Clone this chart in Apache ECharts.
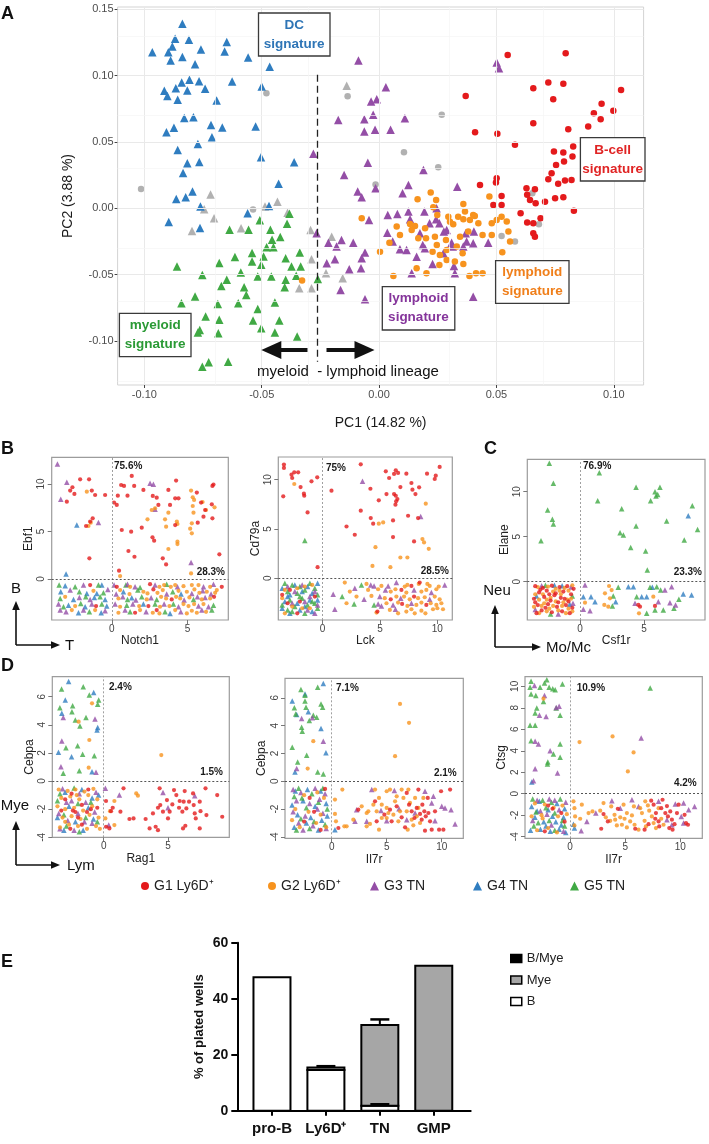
<!DOCTYPE html>
<html><head><meta charset="utf-8">
<script src="https://cdn.jsdelivr.net/npm/echarts@6/dist/echarts.min.js"></script>
<style>html,body{margin:0;padding:0;background:#fff}#c{width:709px;height:1144px}</style>
</head><body><div id="c"></div><script>
// ---------------- DATA ----------------
const GROUPS = ['G1 Ly6D\u207A','G2 Ly6D\u207A','G3 TN','G4 TN','G5 TN'];
const COLORS = ['#e41a1c','#f7931e','#944ea6','#2f7dc0','#40a944'];
const SYMBOLS = ['circle','circle','triangle','triangle','triangle'];

// Panel A (PC1, PC2)
const A_XTICKS = [-0.10,-0.05,0,0.05,0.10];
const A_YTICKS = [-0.10,-0.05,0,0.05,0.10,0.15];
const A_XMINOR = [-0.075,-0.025,0.025,0.075];
const A_YMINOR = [-0.125,-0.075,-0.025,0.025,0.075,0.125];
const A_G1 = [[0.0369,0.0847],[0.0657,0.0905],[0.0721,0.0948],[0.0785,0.0938],[0.0742,0.0822],[0.0657,0.0641],[0.0409,0.0573],[0.0504,0.0561],[0.0579,0.0478],[0.0806,0.0596],[0.0891,0.0616],[0.0915,0.0716],[0.0948,0.0787],[0.0944,0.0671],[0.0745,0.0427],[0.0785,0.042],[0.0827,0.0465],[0.0824,0.039],[0.0754,0.0327],[0.0788,0.0352],[0.0735,0.0264],[0.0721,0.0219],[0.0763,0.0184],[0.0792,0.0209],[0.082,0.0214],[0.0501,0.0226],[0.0498,0.0194],[0.043,0.0176],[0.0522,0.0093],[0.0522,0.0025],[0.0487,0.0025],[0.0628,0.0151],[0.0664,0.0143],[0.0631,0.0101],[0.0643,0.0063],[0.0667,0.0038],[0.0707,0.005],[0.075,0.0075],[0.0785,0.0083],[0.083,-0.0018],[0.0603,-0.0038],[0.0631,-0.0108],[0.0657,-0.0113],[0.0688,-0.0075],[0.0657,-0.0189],[0.0664,-0.0214],[0.0548,0.1155],[0.0795,0.1168],[0.1031,0.0891],[0.0998,0.0735]];
const A_G2 = [[-0.0074,-0.0075],[0.0004,-0.0327],[0.0044,-0.0259],[0.0061,-0.051],[0.0164,0.0068],[0.022,0.0118],[0.0243,0.0063],[0.0231,0.0008],[0.0248,-0.005],[0.0132,-0.0118],[0.0153,-0.0133],[0.0238,-0.0214],[0.0246,-0.0277],[0.0228,-0.0327],[0.0259,-0.0352],[0.0288,-0.039],[0.0323,-0.0402],[0.0359,-0.042],[0.0385,-0.051],[0.0413,-0.049],[0.0441,-0.049],[0.0295,-0.0063],[0.0316,-0.0121],[0.0337,-0.0063],[0.0359,0.0033],[0.0359,-0.0083],[0.0387,-0.0088],[0.0408,-0.0058],[0.0423,-0.0113],[0.038,-0.0176],[0.0345,-0.0214],[0.0331,-0.0289],[0.0356,-0.0339],[0.0285,-0.0239],[0.0441,-0.0201],[0.048,-0.0201],[0.048,-0.0113],[0.0501,-0.0088],[0.0522,-0.0063],[0.0544,-0.01],[0.0551,-0.0176],[0.0558,-0.0251],[0.0525,-0.0332],[0.047,0.0088],[0.0366,-0.0025],[0.0401,-0.005],[0.0089,-0.0201],[0.0075,-0.0138],[0.0139,-0.0163],[0.0167,-0.0226],[0.0196,-0.0151],[0.02,-0.0226],[0.0288,-0.0314],[0.0257,-0.0427],[0.016,-0.0452],[0.0202,-0.049],[0.0302,-0.0101],[-0.0328,-0.0544]];
const A_G3 = [[-0.0088,0.1114],[0.0501,0.1099],[0.0511,0.1056],[0.0029,0.0913],[-0.0034,0.0804],[-0.001,0.0822],[-0.0174,0.0666],[-0.0063,0.0671],[-0.0025,0.0704],[-0.0063,0.0578],[-0.0017,0.0591],[0.0049,0.0591],[0.011,0.0679],[-0.028,0.041],[-0.0048,0.0344],[-0.0149,0.0251],[0.0189,0.0289],[-0.0091,0.0126],[-0.0074,0.0083],[-0.0015,0.0151],[0.01,0.0113],[0.0125,0.0176],[0.0333,0.0163],[-0.0043,-0.0088],[0.0037,-0.005],[0.0078,-0.0043],[0.0125,-0.0025],[0.0193,-0.0025],[0.0245,0],[0.0243,-0.0083],[0.0215,-0.0113],[0.0132,-0.0083],[0.0174,-0.0189],[0.0257,-0.0113],[0.0276,-0.0176],[0.0369,-0.0189],[0.0404,-0.0176],[0.0373,-0.0251],[0.0401,-0.0264],[0.0359,-0.0289],[0.0465,-0.0259],[0.0309,-0.0259],[0.0274,-0.0339],[0.0186,-0.0277],[0.0035,-0.0184],[0.0058,-0.0251],[0.0089,-0.0309],[0.0117,-0.0314],[0.016,-0.0365],[0.0195,-0.0302],[-0.006,-0.0334],[-0.0074,-0.0377],[-0.0077,-0.0452],[-0.0127,-0.046],[-0.011,-0.0259],[-0.016,-0.0239],[-0.0181,-0.0289],[-0.0216,-0.0259],[-0.0266,-0.0189],[-0.0188,-0.0385],[-0.0223,-0.0415],[-0.0164,-0.0616],[-0.006,-0.0686],[0.0139,-0.049],[0.0228,-0.042],[0.0319,-0.0435],[0.0323,-0.049],[0.0401,-0.0666],[0.0314,-0.0289],[0.0288,-0.0163]];
const A_G4 = [[-0.0966,0.1176],[-0.0838,0.139],[-0.0869,0.1277],[-0.081,0.127],[-0.0898,0.1176],[-0.0881,0.122],[-0.0838,0.114],[-0.0888,0.1114],[-0.0784,0.1086],[-0.0759,0.1197],[-0.0649,0.1254],[-0.0658,0.1181],[-0.0558,0.1136],[-0.0466,0.1066],[-0.0915,0.0885],[-0.0902,0.0847],[-0.0866,0.0905],[-0.0858,0.0817],[-0.0841,0.0948],[-0.0817,0.0887],[-0.0808,0.0968],[-0.0767,0.0958],[-0.0741,0.09],[-0.0692,0.0812],[-0.0626,0.0955],[-0.05,0.0918],[-0.0906,0.0573],[-0.0874,0.0606],[-0.083,0.0681],[-0.0791,0.0686],[-0.0716,0.0628],[-0.0668,0.0608],[-0.0712,0.0535],[-0.0526,0.0616],[-0.0858,0.044],[-0.0772,0.0485],[-0.0817,0.0339],[-0.0766,0.0349],[-0.0835,0.0266],[-0.0503,0.0385],[-0.0362,0.0347],[-0.0428,0.0184],[-0.0864,0.007],[-0.0824,0.0083],[-0.0795,0.0126],[-0.0761,0.0013],[-0.0896,-0.0103],[-0.0763,-0.0148],[-0.056,-0.0038],[-0.0469,0.0018]];
const A_G5 = [[-0.0382,-0.0041],[-0.0508,-0.0091],[-0.0556,-0.0162],[-0.0637,-0.0162],[-0.0463,-0.0162],[-0.0421,-0.0217],[-0.0456,-0.0237],[-0.0479,-0.0293],[-0.045,-0.0293],[-0.0541,-0.0338],[-0.0614,-0.0368],[-0.0492,-0.0363],[-0.0398,-0.0376],[-0.0338,-0.0333],[-0.0541,-0.0401],[-0.0502,-0.0426],[-0.0681,-0.0413],[-0.0861,-0.0439],[-0.0753,-0.0502],[-0.0649,-0.0539],[-0.0589,-0.0484],[-0.0517,-0.0514],[-0.0459,-0.0514],[-0.0373,-0.0439],[-0.0334,-0.0439],[-0.0398,-0.0539],[-0.0353,-0.0509],[-0.0672,-0.0585],[-0.0575,-0.0595],[-0.0566,-0.0653],[-0.0402,-0.0595],[-0.0261,-0.0534],[-0.0842,-0.0716],[-0.0784,-0.0665],[-0.0687,-0.0721],[-0.06,-0.0716],[-0.0444,-0.0711],[-0.0739,-0.0816],[-0.0681,-0.0841],[-0.0517,-0.076],[-0.0425,-0.0846],[-0.0537,-0.0846],[-0.0764,-0.0917],[-0.0772,-0.0937],[-0.0685,-0.0942],[-0.0502,-0.0904],[-0.0444,-0.0937],[-0.0349,-0.0967],[-0.0753,-0.1194],[-0.0726,-0.1161],[-0.0643,-0.1156],[-0.0392,-0.0116]];
const A_GRAY_CIRCLE = [[-0.1014,0.0146],[-0.048,0.0867],[-0.0537,-0.001],[-0.0134,0.0845],[-0.0015,0.018],[0.0267,0.0704],[0.0106,0.0422],[0.0252,0.0309],[0.0653,0.0113],[0.0522,-0.0209],[0.0579,-0.0251],[0.0681,-0.0121]];
const A_GRAY_TRI = [[-0.0718,0.0103],[-0.0745,-0.0008],[-0.0703,-0.0075],[-0.0797,-0.0171],[-0.0588,-0.0151],[-0.0486,0.0013],[-0.0433,0.005],[-0.039,-0.0033],[-0.0292,-0.0163],[-0.0138,0.0923],[-0.0202,-0.0214],[-0.0288,-0.0385],[-0.0226,-0.049],[-0.0288,-0.0602],[-0.034,-0.0602],[-0.0155,-0.0528]];
const A_DIVIDER_X = -0.0263;

// Panel B1 (Notch1 vs Ebf1)
const B1_XTICKS = [0,5], B1_YTICKS = [0,5,10];
const B1_G1 = [[-2.09,10.49],[-1.5,10.49],[-2.6,9.65],[-2.75,9.3],[-2.47,8.95],[-2.97,8.14],[-1.32,9.3],[-1.1,8.84],[-0.44,8.84],[-1.26,6.39],[-1.43,6.04],[-1.7,5.58],[-1.48,2.18],[1.32,10.84],[0.62,9.89],[0.81,9.79],[1.48,9.79],[0.4,8.77],[1.04,8.77],[0.15,8.04],[0.33,7.79],[2.09,9.37],[2.71,8.74],[2.97,8.56],[3.74,9.37],[4.25,10.35],[4.19,8.49],[4.41,8.49],[3.85,7.79],[3.08,7.79],[0.66,5.16],[1.28,4.98],[1.98,5.4],[2.69,4.39],[2.8,4.04],[1.1,2.95],[1.5,2.35],[3.37,2.18],[3.59,1.54],[0.48,0.88],[4.19,5.68],[5.62,9.09],[5.9,8.04],[6.06,6.56],[6.17,7.26],[6.61,7.86],[6.65,9.79],[6.72,9.93],[6.65,6.39],[7.11,2.6],[5.68,5.93],[-1.43,-0.63],[0.33,-0.81],[2.53,-0.53],[7.27,-0.81],[2.75,-1.09],[3.96,-2.14],[6.76,-1.86],[-1.04,-2.84],[2.42,-2.84],[1.54,-3.54],[2.97,-3.26]];
const B1_G2 = [[-1.65,9.19],[-1.39,5.93],[-1.54,5.58],[0.55,0.32],[2.64,7.26],[2.36,6.28],[2.86,7.44],[3.74,6.98],[3.52,6.28],[3.59,5.51],[4.3,6.04],[4.34,5.79],[4.34,3.93],[4.34,3.68],[3.74,3.16],[5.24,9.3],[5.35,8.6],[5.44,8.32],[5.35,7.68],[5.4,6.98],[5.29,5.86],[5.18,5.3],[5.29,4.81],[6.0,8.1],[6.23,7.26],[6.79,7.54],[5.24,0.6],[1.21,-0.81],[3.15,-0.81],[3.46,-0.63],[3.9,-0.81],[4.19,-0.63],[4.74,-0.74],[5.29,-0.63],[5.73,-0.63],[6.5,-0.81],[6.94,-1.16],[-1.21,-1.23],[0.55,-1.16],[1.17,-1.58],[2.09,-1.33],[2.36,-1.51],[3.02,-1.44],[3.37,-1.16],[4.41,-1.23],[4.96,-1.33],[5.46,-1.09],[5.79,-1.44],[6.28,-1.33],[6.83,-1.44],[-3.08,-1.86],[0.44,-2.04],[2.31,-2.14],[3.26,-1.86],[3.59,-2.04],[4.25,-1.86],[4.52,-2.04],[5.13,-1.93],[5.95,-2.14],[6.5,-2.04],[-2.42,-2.84],[0.55,-2.91],[1.81,-2.84],[3.19,-2.91],[3.81,-2.84],[4.74,-2.63],[5.07,-2.84],[5.44,-2.63],[6.06,-2.63],[-2.64,-3.26],[-1.1,-3.26],[0.44,-3.54],[1.87,-3.26],[2.71,-3.54],[3.15,-3.61],[4.19,-3.26],[4.96,-3.61],[5.29,-3.33],[5.62,-3.54],[6.23,-3.44]];
const B1_G3 = [[-3.59,12.1],[-3.37,8.39],[-2.97,10.18],[-0.88,5.96],[2.53,10.07],[2.75,9.96],[2.86,7.33],[5.24,1.75],[-1.87,-0.63],[0.15,-0.63],[1.04,-0.53],[1.54,-0.81],[2.86,-0.63],[4.34,-0.81],[6.06,-0.81],[6.72,-0.53],[-2.75,-1.16],[-0.26,-1.09],[0.29,-1.58],[3.63,-1.58],[5.29,-1.51],[6.01,-1.23],[6.56,-1.58],[-2.14,-1.93],[-1.43,-2.14],[0.73,-1.86],[1.59,-2.21],[2.6,-1.96],[4.78,-2.21],[5.66,-1.86],[6.17,-1.93],[-3.52,-2.63],[-1.32,-2.63],[0.22,-2.63],[1.39,-2.63],[3.46,-2.63],[4.41,-2.91],[5.73,-2.84],[6.39,-2.91],[-3.41,-3.26],[-3.02,-3.44],[-1.87,-3.26],[-0.44,-3.33],[0.88,-3.26],[2.27,-3.44],[4.56,-3.44],[5.95,-3.26]];
const B1_G4 = [[-2.31,5.68],[-3.02,0.53],[-3.08,-0.7],[-0.66,-0.63],[-3.37,-1.33],[-1.65,-1.51],[-0.99,-1.51],[0.77,-1.33],[4.58,-1.58],[-2.53,-2.14],[-1.15,-1.93],[-0.44,-2.14],[1.32,-1.96],[-2.86,-2.74],[-1.76,-2.91],[-0.33,-2.84],[2.09,-2.63],[-2.2,-3.54],[-0.7,-3.54],[3.85,-3.61]];
const B1_G5 = [[-3.48,-0.63],[-2.42,-0.81],[-0.88,-0.63],[0.93,-0.63],[1.87,-0.88],[3.63,-0.53],[-2.14,-1.33],[-0.55,-1.44],[1.72,-1.16],[4.03,-1.33],[-3.41,-2.04],[-1.72,-1.86],[-0.77,-1.86],[1.04,-2.14],[1.98,-1.86],[2.97,-2.14],[5.4,-2.14],[-3.19,-2.91],[-2.05,-2.56],[-0.66,-2.63],[0.99,-2.74],[2.86,-2.63],[4.07,-2.63],[6.72,-2.74],[-1.48,-3.44],[1.21,-3.44],[3.52,-3.44],[6.61,-3.26]];

// Panel B2 (Lck vs Cd79a)
const B2_XTICKS = [0,5,10], B2_YTICKS = [0,5,10];
const B2_G1 = [[-3.36,11.53],[-3.36,11.19],[-3.42,8.31],[-2.7,10.51],[-2.46,10.75],[-2.12,10.75],[-2.64,10.17],[-1.91,9.25],[-1.62,8.58],[-1.59,8.37],[-0.96,9.83],[-0.46,10.24],[-1.3,6.68],[-0.43,1.12],[0.78,8.88],[2.09,5.25],[2.81,4.41],[3.33,11.56],[3.33,6.85],[4.17,9.08],[4.2,6.1],[4.41,5.53],[4.9,7.9],[5.51,10.85],[5.8,10.17],[6.23,10.58],[6.38,10.95],[6.58,10.68],[5.57,8.54],[6.23,8.54],[6.38,8.37],[6.52,8.03],[6.35,7.46],[6.41,7.8],[6.78,9.25],[6.14,5.86],[6.14,4.17],[7.3,10.61],[7.45,6.34],[7.74,9.66],[7.83,8.98],[8.09,8.54],[8.41,9.22],[8.32,6.1],[7.97,3.73],[9.1,10.61],[9.77,10.07],[9.86,10.41],[10.2,11.29],[-3.51,-1.69],[-2.84,-1.19],[-3.04,-2.54],[-2.2,-3.56],[-1.97,-2.37],[-0.67,-1.86],[7.74,-0.78],[8.46,-0.44],[6.87,-1.19],[5.94,-2.14],[7.97,-1.86],[6.93,-2.61],[9.04,-2.71],[4.78,-3.39]];
const B2_G2 = [[-2.46,9.56],[4.9,5.53],[5.28,5.66],[4.61,3.15],[4.35,1.25],[5.91,1.12],[6.78,2.1],[7.39,2.1],[8.7,3.97],[8.84,3.63],[9.25,2.98],[8.99,7.56],[-3.28,-1.19],[-2.2,-1.02],[-1.54,-0.85],[-3.51,-2.03],[-2.64,-2.88],[-1.77,-3.05],[-1.1,-3.05],[-3.28,-3.56],[-0.9,-0.68],[1.94,-0.44],[3.83,-0.58],[5.13,-0.78],[7.16,-0.85],[7.39,-0.68],[8.38,-0.58],[9.13,-0.58],[9.33,-0.78],[10.12,-0.85],[2.38,-1.36],[3.97,-1.19],[4.84,-1.12],[5.94,-1.36],[6.35,-1.12],[7.3,-1.46],[8.61,-1.36],[9.04,-1.19],[9.91,-1.12],[2.96,-1.86],[4.26,-1.8],[5.42,-2.03],[6.43,-1.86],[7.1,-1.86],[7.59,-2.14],[8.32,-2.03],[8.9,-1.93],[9.77,-1.86],[10.2,-2.14],[2.09,-2.54],[5.57,-2.54],[6.58,-2.47],[7.39,-2.81],[8.17,-2.71],[8.61,-2.47],[9.42,-2.54],[9.91,-2.71],[10.35,-2.54],[4.7,-3.49],[5.86,-3.22],[6.58,-3.56],[7.3,-3.39],[7.74,-3.15],[8.03,-3.56],[8.61,-3.29],[8.96,-3.56],[9.62,-3.15],[10.0,-3.05],[10.49,-3.15]];
const B2_G3 = [[3.48,9.83],[8.55,6.27],[-3.04,-0.85],[-1.77,-0.68],[-0.67,-1.36],[-2.41,-1.36],[-1.1,-1.86],[-0.43,-2.71],[-1.54,-2.37],[-2.64,-2.54],[-1.3,-3.22],[-0.67,-3.56],[4.2,-0.68],[4.49,-0.78],[5.71,-0.78],[6.43,-0.44],[10.64,-0.68],[0.93,-1.63],[2.81,-1.02],[5.48,-1.19],[7.97,-1.19],[9.48,-1.46],[3.62,-2.14],[4.99,-1.86],[6.81,-2.03],[9.33,-2.14],[4.84,-2.61],[5.13,-2.81],[6.14,-2.71],[7.74,-2.54],[1.07,-3.15],[6.35,-3.15]];
const B2_G4 = [[-3.51,-1.02],[-2.41,-0.68],[-1.3,-0.85],[-0.43,-0.51],[-2.84,-1.69],[-1.77,-1.36],[-0.9,-1.53],[-3.28,-2.37],[-2.2,-2.54],[-1.1,-2.2],[-3.51,-3.05],[-2.84,-3.56],[-1.97,-3.22],[-0.9,-3.39],[-0.43,-2.2],[-1.54,-2.88],[-3.04,-1.86]];
const B2_G5 = [[-1.54,3.83],[-3.28,-0.51],[-2.64,-0.68],[-1.97,-0.85],[-1.1,-0.51],[-0.67,-1.02],[-3.04,-1.36],[-2.2,-1.53],[-1.54,-1.19],[-0.43,-1.69],[-2.84,-2.2],[-1.77,-2.03],[-0.9,-2.37],[-3.51,-2.71],[-2.41,-2.88],[-1.3,-2.71],[-0.43,-3.05],[-2.64,-3.39],[-1.54,-3.56],[-3.04,-3.22],[-0.67,-2.54],[-1.97,-1.86],[3.39,-0.68],[1.71,-1.86],[4.49,-2.71],[2.75,-2.61]];

// Panel C (Csf1r vs Elane)
const C_XTICKS = [0,5], C_YTICKS = [0,5,10];
const C_G1 = [[-3.5,-0.5],[-2.9,-0.7],[-2.2,-0.45],[-1.6,-0.6],[-1.0,-0.5],[-3.2,-1.2],[-2.6,-1.0],[-1.9,-1.3],[-1.3,-1.1],[-0.7,-1.4],[-3.6,-1.9],[-2.8,-1.7],[-2.3,-2.1],[-1.5,-1.8],[-0.9,-2.2],[-3.3,-2.6],[-2.5,-2.5],[-1.8,-2.8],[-1.1,-2.6],[-0.6,-2.9],[-3.0,-3.2],[-2.2,-3.4],[-1.4,-3.3],[-0.8,-3.5],[-3.4,-3.5],[-2.0,-1.5],[-2.7,-2.9],[-1.2,-1.9],[-3.1,-0.9],[-1.7,-2.3],[-2.4,-1.4],[-0.5,-0.8],[-3.5,-2.3],[4.56,-2.59],[4.69,-2.78],[5.86,-2.7]];
const C_G2 = [[-3.3,-0.6],[-2.5,-0.55],[-1.9,-0.8],[-1.2,-0.7],[-0.6,-0.4],[-3.5,-1.4],[-2.9,-1.4],[-2.1,-1.1],[-1.5,-1.4],[-0.9,-1.0],[-3.2,-2.0],[-2.6,-2.0],[-1.9,-2.2],[-1.3,-2.3],[-0.7,-1.9],[-3.6,-2.8],[-2.8,-2.4],[-2.1,-2.7],[-1.4,-2.7],[-0.9,-3.0],[-3.2,-3.5],[-2.6,-3.3],[-1.7,-3.2],[-1.1,-3.5],[-0.6,-3.3],[-2.3,-1.8],[-1.6,-1.0],[-3.0,-2.7],[-2.4,-3.0],[-1.0,-2.0],[0.39,-2.33],[2.27,-0.48],[1.95,-1.3],[2.47,-0.93],[2.34,-1.85],[1.9,-2.59],[2.21,-2.78],[4.61,-3.52],[5.73,-1.67]];
const C_G3 = [[-3.0,-0.45],[-0.7,-0.6],[-1.7,-3.6],[-3.5,-3.1],[-0.55,-2.4],[0.39,-0.37],[0.26,-3.07],[0.78,-3.22],[4.3,-2.41],[6.12,-2.22],[7.16,-0.56],[7.03,-2.33],[7.47,-2.59],[6.64,-0.93]];
const C_G4 = [[8.46,7.33],[-2.0,-0.4],[-1.4,-0.45],[-0.8,-2.5],[-3.4,-1.6],[0.26,-1.67],[0.86,-1.67],[1.17,-2.22],[2.79,-2.22],[3.78,-0.56],[4.17,-0.56],[4.82,-1.67],[5.21,-1.67],[5.65,-0.63],[8.07,-1.37],[8.72,-1.48]];
const C_G5 = [[-2.4,13.15],[-2.08,10.93],[-2.53,7.96],[-2.16,6.93],[-2.08,6.41],[-3.05,4.56],[1.51,12.11],[1.38,9.0],[3.26,8.11],[3.13,5.44],[3.39,5.19],[3.96,3.81],[4.38,10.48],[4.38,6.19],[5.13,3.41],[5.26,1.3],[5.52,9.0],[5.94,9.52],[5.86,10.0],[6.07,9.7],[6.25,10.48],[6.77,6.74],[8.15,4.63],[8.78,8.44],[9.19,5.81],[-2.7,-0.4],[-0.6,-1.6],[-2.3,-3.6],[2.6,-1.59],[2.99,-0.63],[2.53,-2.7],[4.43,-1.67],[5.47,-0.63],[5.21,-3.52],[6.0,-0.56],[5.86,-3.15],[6.51,-3.15],[7.73,-1.96],[7.34,-2.96],[6.3,-0.93]];

// Panel D1 (Rag1 vs Cebpa)
const D1_XTICKS = [0,5], D1_YTICKS = [-4,-2,0,2,4,6];
const D1_G1 = [[-2.5,-0.9],[-1.2,-0.6],[-3.0,-1.3],[-1.7,-1.7],[-2.4,-2.1],[-1.0,-2.0],[-3.3,-2.1],[-2.0,-2.6],[-1.3,-2.2],[-2.6,-3.4],[-1.7,-3.1],[-0.5,-1.9],[-2.2,-2.2],[0.18,-1.42],[0.57,-2.14],[0.7,-1.9],[1.3,-2.18],[1.54,-0.52],[0.18,-3.25],[0.44,-3.37],[2.0,-2.7],[2.32,-2.66],[3.26,-2.7],[3.57,-3.37],[3.83,-2.3],[4.04,-3.25],[4.22,-3.49],[4.22,-1.9],[4.35,-0.52],[4.4,-1.71],[4.61,-2.18],[5.0,-2.66],[5.13,-2.18],[5.34,-1.66],[5.47,-0.64],[5.65,-1.0],[5.86,-1.9],[6.12,-2.18],[5.91,-1.42],[6.3,-0.71],[6.22,-1.47],[6.43,-1.95],[6.64,-1.47],[6.95,-0.88],[7.0,-1.71],[7.08,-2.3],[7.16,-2.66],[7.47,-1.47],[7.53,-2.14],[7.92,-0.52],[7.47,-3.37],[7.99,-2.42],[6.17,-3.37],[6.35,-3.18],[4.92,-1.35],[8.83,-1.0],[9.22,-2.54]];
const D1_G2 = [[-0.91,5.53],[-1.95,4.22],[-1.12,2.92],[-1.17,0.95],[4.48,1.85],[-3.5,-0.6],[-2.8,-0.7],[-2.2,-0.6],[-1.5,-0.75],[-0.8,-0.55],[-3.3,-1.2],[-2.6,-1.1],[-1.9,-1.3],[-1.2,-1.0],[-0.5,-1.3],[-3.6,-1.8],[-3.0,-2.0],[-2.3,-1.9],[-1.6,-2.1],[-0.9,-1.8],[-3.2,-2.6],[-2.5,-2.5],[-1.8,-2.7],[-1.1,-2.4],[-0.4,-2.6],[-3.4,-3.3],[-2.7,-3.1],[-2.0,-3.2],[-1.3,-3.4],[-0.6,-3.2],[-0.3,-3.4],[-2.1,-1.0],[-3.0,-2.9],[0.83,-1.42],[0.49,-2.14],[0.83,-3.13],[2.53,-0.88],[2.66,-1.04],[0.13,-2.66]];
const D1_G3 = [[-3.15,4.51],[-3.26,2.85],[-3.33,1.02],[-0.68,4.41],[-0.6,0.62],[-3.2,-0.55],[-1.9,-0.9],[-0.6,-0.8],[-2.9,-1.5],[-1.4,-1.5],[-3.5,-2.3],[-2.0,-2.3],[-0.7,-2.2],[-2.8,-2.8],[-1.5,-2.9],[-3.4,-3.4],[-2.3,-3.5],[-0.9,-3.0],[-2.5,-1.4],[0.13,-0.52],[1.22,-1.0],[0.39,-3.13],[4.61,-0.81],[5.0,-1.9],[7.08,-1.04]];
const D1_G4 = [[-2.73,7.07],[-0.78,6.29],[-2.99,5.77],[-3.26,4.82],[-3.52,2.04],[-2.5,1.73],[-0.47,3.8],[-0.52,3.63],[-0.91,0.66],[-3.0,-0.8],[-1.7,-0.6],[-0.9,-1.2],[-2.7,-1.8],[-1.2,-1.9],[-3.6,-2.6],[-2.2,-2.9],[-0.8,-2.7],[-1.6,-3.5],[-3.1,-3.5],[-0.4,-1.0]];
const D1_G5 = [[-3.28,6.55],[-1.59,6.71],[-0.39,5.77],[-3.41,5.22],[-2.47,4.93],[-2.21,4.34],[-1.85,3.91],[-1.38,4.51],[-2.94,2.37],[-2.03,2.51],[-1.64,1.9],[-0.73,1.8],[-3.15,0.55],[-1.9,0.74],[-2.42,5.36],[-1.12,6.12],[-0.47,5.46],[-3.4,-0.9],[-2.3,-0.5],[-1.0,-1.5],[-2.0,-1.6],[-3.1,-2.4],[-1.4,-2.6],[-0.5,-2.9],[-2.9,-3.2],[-1.9,-3.6],[-3.6,-1.4]];

// Panel D2 (Il7r vs Cebpa)
const D2_XTICKS = [0,5,10], D2_YTICKS = [-4,-2,0,2,4,6];
const D2_G1 = [[-2.0,-1.2],[-1.6,-2.2],[-0.6,-0.55],[-2.5,-2.9],[-1.0,-3.5],[0.61,-3.36],[2.42,-2.04],[3.94,-1.44],[4.09,-2.88],[4.79,-2.4],[5.3,-2.04],[5.45,-2.88],[6.82,-0.84],[7.03,-1.68],[7.27,-2.16],[7.52,-2.64],[7.73,-1.92],[7.88,-0.6],[8.03,-2.35],[8.18,-2.76],[8.24,-1.68],[8.42,-2.16],[8.55,-2.52],[8.73,-1.2],[8.79,-2.28],[8.94,-2.88],[9.09,-3.48],[8.48,-3.55],[9.39,-2.16],[9.76,-3.48],[9.94,-0.72],[10.15,-3.48],[10.76,-0.6],[6.67,-3.31],[6.36,-2.59],[5.91,-1.8]];
const D2_G2 = [[-1.67,2.88],[-2.18,0.91],[6.21,5.56],[7.03,4.2],[5.76,1.8],[-2.5,-1.0],[-1.3,-0.8],[-3.3,-2.0],[-2.1,-2.2],[-1.0,-2.4],[-2.9,-3.3],[-1.4,-3.0],[-0.5,-3.3],[-0.7,-1.2],[-3.6,-2.8],[0.3,-1.32],[0.97,-0.6],[0.3,-2.35],[0.39,-2.88],[1.15,-3.24],[1.36,-3.24],[1.97,-2.76],[2.73,-1.8],[3.18,-2.28],[3.33,-2.16],[3.18,-3.24],[3.48,-3.07],[3.94,-0.6],[4.3,-1.2],[4.55,-1.68],[5.0,-0.72],[5.3,-0.6],[5.0,-1.92],[4.55,-2.64],[4.3,-3.48],[5.15,-2.28],[5.76,-1.44],[5.91,-1.08],[6.21,-2.16],[6.36,-0.6],[6.52,-1.2],[6.82,-2.16],[6.97,-0.6],[7.12,-1.56],[7.27,-2.76],[7.42,-3.17],[7.58,-1.2],[7.88,-1.92],[7.73,-2.52],[8.03,-3.0],[6.91,-3.48],[8.33,-1.2],[5.0,-2.64],[5.61,-2.4],[6.06,-2.88],[4.09,-2.16],[3.79,-1.68]];
const D2_G3 = [[-1.76,4.56],[-2.73,4.51],[-0.76,2.88],[-3.18,0.91],[-3.5,-0.6],[-2.8,-0.8],[-1.5,-0.5],[-0.6,-0.9],[-3.2,-1.4],[-2.0,-1.6],[-1.1,-1.3],[-3.5,-2.2],[-2.4,-2.5],[-0.8,-2.3],[-3.0,-3.0],[-1.7,-3.2],[-0.5,-3.4],[-2.6,-3.5],[-1.3,-2.0],[2.27,-2.04],[2.12,-2.88],[3.64,-0.6],[4.48,-2.11],[5.0,-2.83],[5.7,-0.67],[6.12,-1.97],[9.09,-1.56],[9.24,-1.08],[10.0,-1.8],[10.3,-1.92],[10.85,-2.04],[11.21,-3.07],[9.39,-2.83],[7.58,-2.28],[8.48,-0.72],[6.82,-2.76],[3.18,-2.88]];
const D2_G4 = [[-0.76,7.03],[-3.58,5.76],[-2.42,6.28],[-3.18,4.8],[-2.12,4.99],[-0.97,3.79],[-0.52,2.04],[-3.33,0.67],[-3.3,-0.7],[-2.2,-0.6],[-1.0,-0.7],[-3.6,-1.7],[-2.6,-1.4],[-1.5,-1.8],[-0.5,-1.6],[-3.1,-2.4],[-1.9,-2.6],[-0.9,-2.8],[-3.4,-3.3],[-2.3,-3.0],[-1.2,-3.5],[-0.4,-2.5],[0.3,-3.48]];
const D2_G5 = [[-2.79,6.59],[-1.27,6.76],[-2.42,5.76],[-3.39,5.28],[-3.27,4.84],[-2.33,5.32],[-2.73,3.88],[-2.67,3.6],[-0.97,5.56],[-0.82,5.32],[-3.58,2.45],[-2.27,1.87],[-3.09,1.39],[-1.27,0.67],[-0.76,0.53],[-1.67,4.75],[-2.03,4.36],[-1.36,4.6],[-2.42,6.19],[-3.0,-0.5],[-1.8,-0.9],[-0.8,-0.5],[-3.4,-1.1],[-2.3,-1.9],[-1.2,-1.5],[-0.4,-2.0],[-2.8,-2.7],[-1.6,-2.9],[-0.6,-3.1],[-3.2,-3.5],[-2.0,-3.4],[-2.7,-1.2]];

// Panel D3 (Il7r vs Ctsg)
const D3_XTICKS = [0,5,10], D3_YTICKS = [-4,-2,0,2,4,6,8,10];
const D3_G1 = [[-2.0,-1.1],[-0.8,-1.8],[-2.3,-3.5],[-0.5,-2.6],[-1.6,-1.4],[2.82,-3.26],[3.03,-1.89],[3.42,-2.58],[4.33,-1.4],[5.91,-3.26],[6.76,-3.35],[7.36,-0.65],[7.58,-1.02],[7.79,-1.8],[8.03,-2.58],[8.27,-1.34],[8.39,-0.56],[8.64,-1.8],[8.79,-1.15],[8.88,-2.11],[9.0,-3.2],[9.09,-1.65],[9.24,-2.42],[9.3,-3.35],[9.48,-2.83],[9.7,-1.8],[9.85,-1.02],[10.39,-1.96],[10.52,-2.73],[10.7,-2.89],[8.09,-3.04],[7.12,-2.83],[7.73,-2.33]];
const D3_G2 = [[-2.42,8.85],[0.85,4.81],[3.85,5.34],[5.76,3.85],[5.24,2.08],[-3.2,-0.9],[-2.3,-1.0],[-1.5,-1.3],[-0.7,-1.1],[-3.5,-2.1],[-2.6,-2.0],[-1.1,-2.1],[-3.0,-3.4],[-2.0,-3.2],[-1.2,-3.6],[-2.5,-2.3],[-0.3,-1.9],[0.3,-0.71],[0.39,-1.34],[0.45,-2.11],[0.39,-2.95],[0.91,-2.33],[1.67,-1.8],[2.03,-1.65],[2.73,-1.58],[3.03,-0.87],[3.24,-2.2],[3.64,-2.52],[4.03,-1.96],[4.09,-2.42],[4.24,-2.95],[4.55,-2.2],[4.7,-2.89],[4.94,-2.33],[5.15,-1.8],[5.15,-3.14],[5.45,-2.58],[5.61,-2.02],[5.85,-2.89],[6.21,-3.35],[6.36,-1.34],[6.52,-1.8],[6.76,-2.52],[6.88,-3.04],[7.06,-1.09],[7.18,-1.58],[7.42,-2.11],[7.58,-2.73],[7.79,-3.2],[8.03,-1.34],[8.27,-2.33],[8.48,-2.89],[6.82,-0.71],[5.79,-1.18],[4.85,-1.02],[3.73,-1.18],[1.06,-1.02]];
const D3_G3 = [[-3.24,10.09],[-2.33,9.16],[-1.27,8.04],[-1.0,8.14],[-3.18,4.88],[-2.88,4.63],[-1.82,4.01],[-3.18,2.33],[-1.15,1.93],[-3.33,1.21],[-2.79,7.3],[-2.18,7.2],[6.45,5.19],[-3.0,-0.6],[-1.9,-0.5],[-1.0,-1.5],[-2.7,-1.6],[-0.4,-0.8],[-3.4,-2.5],[-1.7,-2.9],[-0.6,-3.5],[-2.1,-1.9],[-1.4,-0.6],[1.0,-3.45],[1.52,-2.58],[2.33,-1.8],[3.79,-0.65],[4.55,-1.34],[5.61,-0.56],[6.21,-1.18],[8.79,-2.42],[9.24,-2.89],[9.55,-0.96],[10.3,-0.87],[10.76,-1.49],[11.3,-1.18],[8.03,-0.71],[10.09,-2.11],[10.3,-2.73]];
const D3_G4 = [[-3.48,1.09],[-3.5,-1.2],[-2.8,-0.7],[-2.0,-1.5],[-1.2,-0.9],[-0.5,-1.4],[-3.2,-2.2],[-2.4,-2.6],[-1.6,-2.1],[-0.8,-2.9],[-3.6,-3.4],[-2.7,-3.3],[-1.8,-3.5],[-1.0,-3.3],[-0.4,-3.6],[-1.3,-2.6],[-3.0,-1.6],[-0.6,-2.2],[-2.2,-3.0],[0.3,-2.83],[0.39,-3.2]];
const D3_G5 = [[-3.55,10.47],[-3.64,9.91],[-2.73,9.91],[-2.12,10.62],[-1.91,9.91],[-1.58,9.78],[-0.7,10.22],[-2.33,10.31],[-3.55,9.29],[-3.12,9.16],[-1.36,9.69],[-3.03,7.98],[-2.42,8.6],[-1.27,7.98],[-0.91,7.3],[-3.64,6.37],[-3.18,6.37],[-3.55,4.94],[-0.91,4.63],[-1.52,3.7],[-0.91,3.39],[-2.03,2.95],[-2.06,2.76],[7.27,9.84],[-3.18,7.52],[-3.4,-0.5],[-2.5,-0.6],[-1.7,-0.8],[-0.9,-0.5],[-3.1,-1.7],[-2.2,-1.3],[-1.4,-1.8],[-2.9,-2.7],[-1.9,-2.5],[-0.7,-2.5],[-3.3,-3.0],[-1.4,-3.4],[-0.5,-3.0]];

// Panel E (stacked bar chart)
const E_CATS = ['pro-B','Ly6D\u207A','TN','GMP'];
const E_POS = [0,1,2,3];
const E_B = [47.7,14.5,1.8,0];
const E_MYE = [0,0.9,28.8,51.8];
const E_BMYE = [0,0,0,0];
const E_ERR_X = [1,2,2];
const E_ERR_LO = [15.4,1.8,30.6];
const E_ERR_HI = [15.9,2.3,32.6];

// ---------------- CHART ----------------
const FONT = "'Liberation Sans', Arial, sans-serif";
const chart = echarts.init(document.getElementById('c'), null, {renderer:'canvas'});

const grids = [
  {left:117.6, top:7, width:526, height:378, show:true, borderColor:'#d3d3d3', borderWidth:1},
  {left:51.7, top:457.3, width:176.6, height:162.7},
  {left:278.3, top:457, width:174, height:163},
  {left:527.3, top:459.3, width:177.7, height:160.7},
  {left:52.3, top:676.7, width:177, height:160.6},
  {left:285, top:678.3, width:178.3, height:160},
  {left:525, top:676.7, width:177.3, height:161.6},
  {left:237.3, top:942.7, width:233.4, height:168}
];
for (let i=1;i<=6;i++){ Object.assign(grids[i], {show:true, borderColor:'#9c9c9c', borderWidth:1.2}); }

const xAxes = [], yAxes = [], series = [];

xAxes.push({gridIndex:0, type:'value', min:-0.1114, max:0.1127,
  axisLine:{show:false, onZero:false}, splitLine:{show:false},
  axisTick:{show:true, length:3, lineStyle:{color:'#444'}, customValues:A_XTICKS},
  axisLabel:{customValues:A_XTICKS, formatter:v=>v.toFixed(2), fontSize:11, color:'#4d4d4d', margin:4, fontFamily:FONT},
  name:'PC1 (14.82 %)', nameLocation:'middle', nameGap:31, nameTextStyle:{fontSize:14, color:'#1a1a1a', fontFamily:FONT}});
yAxes.push({gridIndex:0, type:'value', min:-0.1332, max:0.1517,
  axisLine:{show:false, onZero:false}, splitLine:{show:false},
  axisTick:{show:true, length:3, lineStyle:{color:'#444'}, customValues:A_YTICKS},
  axisLabel:{customValues:A_YTICKS, formatter:v=>v.toFixed(2), fontSize:11, color:'#4d4d4d', margin:4, fontFamily:FONT},
  name:'PC2 (3.88 %)', nameLocation:'middle', nameRotate:90, nameGap:42, nameTextStyle:{fontSize:14, color:'#1a1a1a', fontFamily:FONT}});

const SMALL = [
  {g:1, xr:[-3.97,7.7], yr:[-4.3,12.8], xt:B1_XTICKS, yt:B1_YTICKS, xn:'Notch1', yn:'Ebf1', d:[B1_G1,B1_G2,B1_G3,B1_G4,B1_G5]},
  {g:2, xr:[-3.85,11.3], yr:[-4.24,12.3], xt:B2_XTICKS, yt:B2_YTICKS, xn:'Lck', yn:'Cd79a', d:[B2_G1,B2_G2,B2_G3,B2_G4,B2_G5]},
  {g:3, xr:[-4.12,9.77], yr:[-4.26,13.6], xt:C_XTICKS, yt:C_YTICKS, xn:'Csf1r', yn:'Elane', d:[C_G1,C_G2,C_G3,C_G4,C_G5]},
  {g:4, xr:[-4.0,9.77], yr:[-4.0,7.42], xt:D1_XTICKS, yt:D1_YTICKS, xn:'Rag1', yn:'Cebpa', d:[D1_G1,D1_G2,D1_G3,D1_G4,D1_G5]},
  {g:5, xr:[-4.24,11.96], yr:[-4.1,7.4], xt:D2_XTICKS, yt:D2_YTICKS, xn:'Il7r', yn:'Cebpa', d:[D2_G1,D2_G2,D2_G3,D2_G4,D2_G5]},
  {g:6, xr:[-4.1,12.0], yr:[-4.15,10.9], xt:D3_XTICKS, yt:D3_YTICKS, xn:'Il7r', yn:'Ctsg', d:[D3_G1,D3_G2,D3_G3,D3_G4,D3_G5]}
];
SMALL.forEach(p=>{
  xAxes.push({gridIndex:p.g, type:'value', min:p.xr[0], max:p.xr[1], axisLine:{show:false, onZero:false}, splitLine:{show:false},
    axisTick:{show:true, length:4, lineStyle:{color:'#777'}, customValues:p.xt},
    axisLabel:{customValues:p.xt, fontSize:10, color:'#444', margin:4, fontFamily:FONT},
    name:p.xn, nameLocation:'middle', nameGap:13, nameTextStyle:{fontSize:12, color:'#222', fontFamily:FONT}});
  yAxes.push({gridIndex:p.g, type:'value', min:p.yr[0], max:p.yr[1], axisLine:{show:false, onZero:false}, splitLine:{show:false},
    axisTick:{show:true, length:4, lineStyle:{color:'#777'}, customValues:p.yt},
    axisLabel:{customValues:p.yt, rotate:90, fontSize:10, color:'#444', margin:5, fontFamily:FONT},
    name:p.yn, nameLocation:'middle', nameRotate:90, nameGap:17, nameTextStyle:{fontSize:12, color:'#222', fontFamily:FONT}});
});

xAxes.push({gridIndex:7, type:'value', min:-0.643, max:3.685,
  axisLine:{show:true, onZero:false, lineStyle:{color:'#000', width:2}}, splitLine:{show:false},
  axisTick:{show:true, length:5, lineStyle:{color:'#000', width:2}, customValues:E_POS},
  axisLabel:{customValues:E_POS, formatter:v=>E_CATS[Math.round(v)], fontSize:15, fontWeight:'bold', color:'#111', margin:11, fontFamily:FONT}});
yAxes.push({gridIndex:7, type:'value', min:0, max:60, interval:20,
  axisLine:{show:true, onZero:false, lineStyle:{color:'#000', width:2}}, splitLine:{show:false},
  axisTick:{show:true, length:6, lineStyle:{color:'#000', width:2}},
  axisLabel:{fontSize:14, fontWeight:'bold', color:'#111', margin:9, fontFamily:FONT},
  name:'% of plated wells', nameLocation:'middle', nameRotate:90, nameGap:31, nameTextStyle:{fontSize:13, fontWeight:'bold', color:'#111', fontFamily:FONT}});

// ---- Panel A ----
const gridLines = [];
A_XTICKS.forEach(v=>gridLines.push({xAxis:v, lineStyle:{color:'#e9e9e9', width:1, type:'solid'}}));
A_YTICKS.forEach(v=>gridLines.push({yAxis:v, lineStyle:{color:'#e9e9e9', width:1, type:'solid'}}));
A_XMINOR.forEach(v=>gridLines.push({xAxis:v, lineStyle:{color:'#f5f5f5', width:0.7, type:'solid'}}));
A_YMINOR.forEach(v=>gridLines.push({yAxis:v, lineStyle:{color:'#f5f5f5', width:0.7, type:'solid'}}));
series.push({type:'scatter', name:'_gridA', xAxisIndex:0, yAxisIndex:0, data:[], z:0, silent:true,
  markLine:{silent:true, symbol:'none', label:{show:false}, animation:false, data:gridLines}});
series.push({type:'scatter', name:'other', xAxisIndex:0, yAxisIndex:0, data:A_GRAY_CIRCLE, symbol:'circle', symbolSize:6.5, itemStyle:{color:'#9e9e9e'}, z:2});
series.push({type:'scatter', name:'other', xAxisIndex:0, yAxisIndex:0, data:A_GRAY_TRI, symbol:'triangle', symbolSize:8.5, itemStyle:{color:'#9e9e9e'}, z:2});
const A_DATA = [A_G1,A_G2,A_G3,A_G4,A_G5];
[4,3,2,1,0].forEach(i=>{
  series.push({type:'scatter', name:GROUPS[i], xAxisIndex:0, yAxisIndex:0, data:A_DATA[i], symbol:SYMBOLS[i],
    symbolSize: SYMBOLS[i]==='circle'?6.5:8.5, itemStyle:{color:COLORS[i], opacity:1}, z:3});
});
series.push({type:'scatter', name:'_annA', xAxisIndex:0, yAxisIndex:0, data:[], z:4, silent:true,
  markLine:{silent:true, label:{show:false}, animation:false, symbol:'none', data:[
    [{coord:[A_DIVIDER_X,0.1007], symbol:'none'},{coord:[A_DIVIDER_X,-0.1156], symbol:'none', lineStyle:{color:'#222', type:[7,4], width:1.3}}],
    [{coord:[-0.0305,-0.1068], symbol:'none'},{coord:[-0.0459,-0.1068], symbol:'triangle', symbolSize:[18,20], lineStyle:{color:'#111', type:'solid', width:4}, itemStyle:{color:'#111'}}],
    [{coord:[-0.0224,-0.1068], symbol:'none'},{coord:[-0.0062,-0.1068], symbol:'triangle', symbolSize:[18,20], lineStyle:{color:'#111', type:'solid', width:4}, itemStyle:{color:'#111'}}]
  ], lineStyle:{color:'#111', type:'solid'}}});

// ---- small panels ----
SMALL.forEach(p=>{
  series.push({type:'scatter', name:'_zero'+p.g, xAxisIndex:p.g, yAxisIndex:p.g, data:[], z:1, silent:true,
    markLine:{silent:true, symbol:'none', label:{show:false}, animation:false, data:[
      {xAxis:0, lineStyle:{color:'#a0a0a0', type:[2,2], width:1}},
      {yAxis:0, lineStyle:{color:'#555', type:[2,2], width:1}}]}});
  [3,4,2,1,0].forEach(i=>{
    series.push({type:'scatter', name:GROUPS[i], xAxisIndex:p.g, yAxisIndex:p.g, data:p.d[i], symbol:SYMBOLS[i],
      symbolSize: SYMBOLS[i]==='circle'?4.2:5.5, itemStyle:{color:COLORS[i]}, z:3});
  });
});

// ---- Panel E: stacked segments via custom series on the library's scales ----
function stackSeries(name, vals, bases, fill){
  return {type:'custom', name:name, xAxisIndex:7, yAxisIndex:7, z:3,
    itemStyle:{color:fill, borderColor:'#000', borderWidth:2},
    data:E_POS.map((x,i)=>[x, bases[i], bases[i]+vals[i]]).filter(d=>d[2]>d[1]),
    encode:{x:0, y:[1,2]},
    renderItem:(params, api)=>{
      const lo = api.coord([api.value(0), api.value(1)]);
      const hi = api.coord([api.value(0), api.value(2)]);
      const w = 37;
      return {type:'rect', shape:{x:lo[0]-w/2, y:hi[1], width:w, height:lo[1]-hi[1]},
        style:{fill:fill, stroke:'#000', lineWidth:2}};
    }};
}
const zeros = E_POS.map(()=>0);
const baseMye = E_B.map(v=>v);
const baseBM = E_B.map((v,i)=>v+E_MYE[i]);
series.push(stackSeries('B', E_B, zeros, '#ffffff'));
series.push(stackSeries('Mye', E_MYE, baseMye, '#a6a6a6'));
series.push(stackSeries('B/Mye', E_BMYE, baseBM, '#000000'));
series.push({type:'custom', name:'_err', xAxisIndex:7, yAxisIndex:7, z:5,
  data:E_ERR_X.map((x,i)=>[x, E_ERR_LO[i], E_ERR_HI[i]]),
  encode:{x:0, y:[1,2]},
  renderItem:(params, api)=>{
    const p0 = api.coord([api.value(0), api.value(1)]);
    const p1 = api.coord([api.value(0), api.value(2)]);
    const hw = 9.5;
    return {type:'group', children:[
      {type:'line', shape:{x1:p0[0], y1:p0[1], x2:p1[0], y2:p1[1]}, style:{stroke:'#000', lineWidth:2}},
      {type:'line', shape:{x1:p1[0]-hw, y1:p1[1], x2:p1[0]+hw, y2:p1[1]}, style:{stroke:'#000', lineWidth:2.5}}
    ]};
  }});

// ---- legends ----
const legendLefts = [136, 263, 365, 468, 565];
const legends = GROUPS.map((g,i)=>({
  left:legendLefts[i], top:874, data:[{name:g, icon:SYMBOLS[i]}], itemWidth:SYMBOLS[i]==='circle'?8:9, itemHeight:SYMBOLS[i]==='circle'?8:9,
  itemGap:6, selectedMode:false, textStyle:{fontSize:14, color:'#222', fontFamily:FONT}
}));
legends.push({left:505, top:947, orient:'vertical', data:['B/Mye','Mye','B'].map(n=>({name:n, icon:'rect'})), itemWidth:11, itemHeight:8, itemGap:8.5,
  selectedMode:false, itemStyle:{borderColor:'#000', borderWidth:1.5}, textStyle:{fontSize:13, color:'#222', fontFamily:FONT}});

// ---- graphic elements ----
function T(x,y,s,o){ return {type:'text', x:x, y:y, z:100, style:Object.assign({text:s, fill:'#111', fontSize:12, fontFamily:FONT, align:'left', verticalAlign:'middle', textAlign:'left', textVerticalAlign:'middle'}, o||{})}; }
function C(o){ o.textAlign = o.align = 'center'; return o; }
function R(o){ o.textAlign = o.align = 'right'; return o; }
function box(x,y,w,h,lines,color,cx,ys){
  const els = [{type:'rect', z:90, shape:{x:x,y:y,width:w,height:h}, style:{fill:'#fff', stroke:'#3a3a3a', lineWidth:1.3}}];
  lines.forEach((l,i)=>els.push(T(cx, ys[i], l, C({fill:color, fontSize:13.5, fontWeight:'bold'}))));
  return els;
}
function lArrow(cx, cy, upTip, rightTip){
  return [
    {type:'line', z:100, shape:{x1:cx, y1:cy, x2:cx, y2:upTip+7}, style:{stroke:'#111', lineWidth:1.6}},
    {type:'polygon', z:100, shape:{points:[[cx,upTip],[cx-3.8,upTip+9],[cx+3.8,upTip+9]]}, style:{fill:'#111'}},
    {type:'line', z:100, shape:{x1:cx, y1:cy, x2:rightTip-7, y2:cy}, style:{stroke:'#111', lineWidth:1.6}},
    {type:'polygon', z:100, shape:{points:[[rightTip,cy],[rightTip-9,cy-3.8],[rightTip-9,cy+3.8]]}, style:{fill:'#111'}}
  ];
}
const PB = () => ({fontSize:10, fontWeight:'bold', fill:'#1a1a1a', fontFamily:FONT});
const LET = {fontSize:18, fontWeight:'bold'};
const graphics = [].concat(
  [T(1,14,'A',LET), T(1,449,'B',LET), T(484,449,'C',LET), T(1,666,'D',LET), T(1,962,'E',LET)],
  box(258.5,13,71.5,43,['DC','signature'],'#2e75b6',294.2,[25.5,44]),
  box(580.4,137.7,64.6,43.3,['B-cell','signature'],'#e02424',612.7,[150,169]),
  box(495.6,260.7,73.4,42.6,['lymphoid','signature'],'#f07f1a',532.3,[272.5,291.5]),
  box(382.3,286.7,72.5,43.3,['lymphoid','signature'],'#85359b',418.5,[298.5,317.5]),
  box(119.4,313.3,71.6,43.4,['myeloid','signature'],'#2a9a35',155.2,[325.5,344.5]),
  [T(348,372,'myeloid  - lymphoid lineage',C({fontSize:15, fill:'#111'}))],
  [T(114,466.7,'75.6%',PB()), T(225,572.7,'28.3%',R(PB())),
   T(326,468.3,'75%',PB()), T(449,571.7,'28.5%',R(PB())),
   T(583,466,'76.9%',PB()), T(702,572.7,'23.3%',R(PB())),
   T(109,687.7,'2.4%',PB()), T(223,772.3,'1.5%',R(PB())),
   T(336,688.3,'7.1%',PB()), T(456.7,773.3,'2.1%',R(PB())),
   T(576.7,688.3,'10.9%',PB()), T(696.7,783.3,'4.2%',R(PB()))],
  lArrow(16,645,601,60), lArrow(495,647,605,541), lArrow(16,865,821,60),
  [T(16,589,'B',C({fontSize:15})), T(65,646,'T',{fontSize:15}),
   T(497,591,'Neu',C({fontSize:15})), T(546,648,'Mo/Mc',{fontSize:15}),
   T(15,806,'Mye',C({fontSize:15})), T(67,866,'Lym',{fontSize:15})]
);

chart.setOption({
  animation:false,
  backgroundColor:'#ffffff',
  textStyle:{fontFamily:FONT},
  grid:grids, xAxis:xAxes, yAxis:yAxes, series:series, legend:legends,
  graphic:{elements:graphics}
});
</script></body></html>
